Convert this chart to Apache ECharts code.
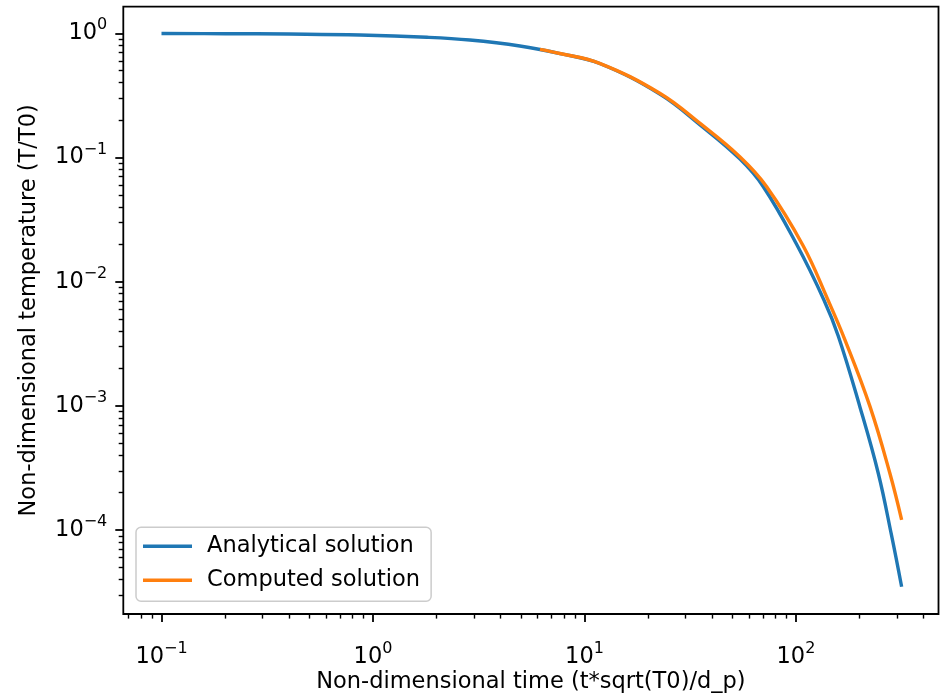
<!DOCTYPE html>
<html>
<head>
<meta charset="utf-8">
<script src="https://cdn.jsdelivr.net/npm/echarts@6/dist/echarts.min.js"></script>
<style>
html,body{margin:0;padding:0;background:#fff;}
#c{width:942px;height:693px;}
</style>
</head>
<body>
<div id="c"></div>
<script>
// ---- data ----
const analyticalTime = [0.1, 0.2, 0.4, 0.868, 1.80, 2.87, 4.95, 7.66, 11.8, 22.7, 35.2, 54.4, 70.1, 100.7, 135.6, 158.5, 200.5, 245, 283, 316];
const analyticalTemp = [0.997, 0.993, 0.986, 0.969, 0.929, 0.883, 0.791, 0.687, 0.571, 0.324, 0.183, 0.097, 0.0582, 0.0200, 0.00713, 0.00366, 0.000986, 0.000287, 0.000091, 0.000035];

const computedTime = [6.16, 7.66, 11.8, 22.7, 35.2, 54.4, 72.7, 108.3, 141.7, 170.6, 224, 278, 316];
const computedTemp = [0.743, 0.688, 0.573, 0.329, 0.188, 0.101, 0.0582, 0.0194, 0.00713, 0.00339, 0.000986, 0.000287, 0.000121];

const xMajorTicks = [0.1, 1, 10, 100];
const yMajorTicks = [1, 0.1, 0.01, 0.001, 0.0001];
const seriesNames = ['Analytical solution', 'Computed solution'];

// minor tick values (2..9 x 10^k) inside each axis range
function minorTicks(lo, hi, kFrom, kTo) {
  const out = [];
  for (let k = kFrom; k <= kTo; k++) {
    for (let m = 2; m <= 9; m++) {
      const v = parseFloat((m * Math.pow(10, k)).toPrecision(3));
      if (v >= lo && v <= hi) out.push(v);
    }
  }
  return out;
}
const X_MIN = Math.pow(10, -1.1806), X_MAX = Math.pow(10, 2.674);
const Y_MIN = Math.pow(10, -4.6755), Y_MAX = Math.pow(10, 0.2142);
const xMinor = minorTicks(X_MIN, X_MAX, -2, 2);
const yMinor = minorTicks(Y_MIN, Y_MAX, -5, 0);

const FONT = 'DejaVu Sans';
const FS = 22.5;

function powLabel(v) {
  const e = Math.round(Math.log10(v));
  const s = e < 0 ? '\u2212' + (-e) : String(e);
  return '{b|10}{s|' + s + '}';
}
const rich = {
  b: {fontFamily: FONT, fontSize: FS, lineHeight: 32, color: '#000'},
  s: {fontFamily: FONT, fontSize: 16, lineHeight: 16, verticalAlign: 'top', color: '#000'}
};

const chart = echarts.init(document.getElementById('c'), null, {renderer: 'canvas'});
const option = {
  animation: false,
  backgroundColor: '#fff',
  grid: {
    left: 123.3, right: 3.5, top: 6.7, bottom: 79,
    containLabel: false, outerBoundsMode: 'none',
    show: true, borderColor: '#000', borderWidth: 1.8, backgroundColor: 'transparent'
  },
  xAxis: [
    {
      type: 'log', logBase: 10, min: X_MIN, max: X_MAX, position: 'bottom',
      name: 'Non-dimensional time (t*sqrt(T0)/d_p)', nameLocation: 'middle', nameGap: 57,
      nameMoveOverlap: false,
      nameTextStyle: {fontFamily: FONT, fontSize: FS, color: '#000'},
      axisLine: {show: false},
      splitLine: {show: false},
      axisTick: {show: true, inside: false, length: 8, lineStyle: {color: '#000', width: 1.8}, customValues: xMajorTicks},
      axisLabel: {show: true, margin: 27, formatter: powLabel, rich: rich, customValues: xMajorTicks}
    },
    {
      type: 'log', logBase: 10, min: X_MIN, max: X_MAX, position: 'bottom',
      axisLine: {show: false}, splitLine: {show: false}, axisLabel: {show: false},
      axisTick: {show: true, inside: false, length: 4.6, lineStyle: {color: '#000', width: 1.4}, customValues: xMinor}
    }
  ],
  yAxis: [
    {
      type: 'log', logBase: 10, min: Y_MIN, max: Y_MAX, position: 'left',
      name: 'Non-dimensional temperature (T/T0)', nameLocation: 'middle', nameGap: 83,
      nameTextStyle: {fontFamily: FONT, fontSize: FS, color: '#000'},
      axisLine: {show: false},
      splitLine: {show: false},
      axisTick: {show: true, inside: false, length: 8, lineStyle: {color: '#000', width: 1.8}, customValues: yMajorTicks},
      axisLabel: {show: true, margin: 16, formatter: powLabel, rich: rich, customValues: yMajorTicks}
    },
    {
      type: 'log', logBase: 10, min: Y_MIN, max: Y_MAX, position: 'left',
      axisLine: {show: false}, splitLine: {show: false}, axisLabel: {show: false},
      axisTick: {show: true, inside: false, length: 4.6, lineStyle: {color: '#000', width: 1.4}, customValues: yMinor}
    }
  ],
  legend: {
    data: seriesNames,
    orient: 'vertical',
    left: 136, top: 527.3,
    padding: [6, 11, 8, 7],
    itemGap: 8,
    itemWidth: 49, itemHeight: 3.4,
    icon: 'rect',
    backgroundColor: 'rgba(255,255,255,0.8)',
    borderColor: '#cccccc', borderWidth: 1.5, borderRadius: 5,
    textStyle: {fontFamily: FONT, fontSize: FS, color: '#000', lineHeight: 26, padding: [0, 0, 0, 10]}
  },
  series: [
    {
      name: seriesNames[0], type: 'line', xAxisIndex: 0, yAxisIndex: 0,
      data: analyticalTime.map((t, i) => [t, analyticalTemp[i]]),
      showSymbol: false, smooth: 0.4,
      lineStyle: {color: '#1f77b4', width: 3.4}, itemStyle: {color: '#1f77b4'}, z: 2
    },
    {
      name: seriesNames[1], type: 'line', xAxisIndex: 0, yAxisIndex: 0,
      data: computedTime.map((t, i) => [t, computedTemp[i]]),
      showSymbol: false, smooth: 0.4,
      lineStyle: {color: '#ff7f0e', width: 3.4}, itemStyle: {color: '#ff7f0e'}, z: 3
    }
  ]
};
chart.setOption(option);
</script>
</body>
</html>
